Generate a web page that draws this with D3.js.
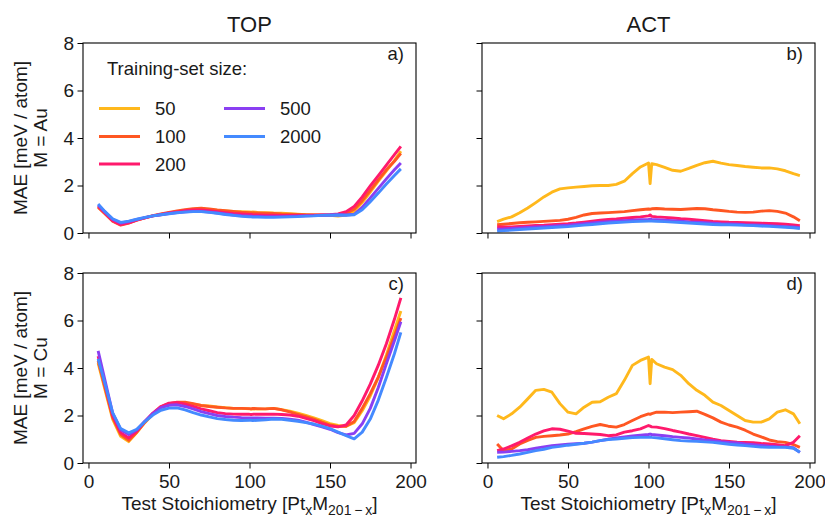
<!DOCTYPE html>
<html>
<head>
<meta charset="utf-8">
<script src="https://cdn.jsdelivr.net/npm/d3@7"></script>
<style>
  body { margin: 0; background: #fff; }
  svg { font-family: "Liberation Sans", Arial, sans-serif; }
</style>
</head>
<body>
<svg id="chart" width="825" height="525"></svg>
<script>
// test stoichiometry (number of Pt atoms)
const stoich = [
  6, 10, 15, 20, 25, 30, 35, 40, 45, 50,
  55, 60, 65, 70, 75, 80, 85, 90, 95, 100,
  101, 102, 105, 110, 115, 120, 125, 130, 135, 140,
  145, 150, 155, 160, 165, 170, 175, 180, 185, 190,
  194];

const sizes = ["50", "100", "200", "500", "2000"];
const colors = ["#FFB81C", "#FF5722", "#FF1A6C", "#8A3FF2", "#448AFF"];

const colTitles = ["TOP", "ACT"];
const rowLabels = ["M = Au", "M = Cu"];
const panelTags = ["a)", "b)", "c)", "d)"];
const xTicks = [0, 50, 100, 150, 200];
const yTicks = [0, 2, 4, 6, 8];

// TOP, M = Au
const topAu50 = [
  1.12, 0.85, 0.52, 0.36, 0.44, 0.55, 0.64, 0.72, 0.78, 0.84,
  0.90, 0.95, 0.99, 1.00, 0.98, 0.95, 0.93, 0.91, 0.90, 0.89,
  0.88, 0.89, 0.87, 0.86, 0.84, 0.83, 0.81, 0.79, 0.77, 0.76,
  0.75, 0.74, 0.71, 0.76, 0.92, 1.28, 1.72, 2.18, 2.62, 3.05,
  3.45];
const topAu100 = [
  1.08, 0.82, 0.50, 0.33, 0.42, 0.54, 0.64, 0.73, 0.80, 0.87,
  0.93, 0.98, 1.02, 1.04, 1.01, 0.97, 0.94, 0.91, 0.88, 0.86,
  0.86, 0.85, 0.84, 0.83, 0.82, 0.80, 0.79, 0.78, 0.77, 0.76,
  0.76, 0.76, 0.77, 0.82, 1.00, 1.36, 1.80, 2.24, 2.66, 3.02,
  3.35];
const topAu200 = [
  1.14, 0.86, 0.52, 0.35, 0.43, 0.54, 0.64, 0.72, 0.78, 0.84,
  0.89, 0.94, 0.97, 0.97, 0.94, 0.90, 0.86, 0.82, 0.80, 0.78,
  0.78, 0.77, 0.76, 0.75, 0.75, 0.74, 0.74, 0.74, 0.74, 0.75,
  0.76, 0.77, 0.80, 0.90, 1.12, 1.52, 1.98, 2.42, 2.86, 3.30,
  3.65];
const topAu500 = [
  1.18, 0.90, 0.58, 0.42, 0.48, 0.57, 0.65, 0.72, 0.77, 0.82,
  0.86, 0.89, 0.91, 0.91, 0.88, 0.84, 0.80, 0.76, 0.73, 0.71,
  0.71, 0.70, 0.70, 0.69, 0.69, 0.69, 0.70, 0.71, 0.72, 0.73,
  0.75, 0.76, 0.77, 0.76, 0.79, 1.08, 1.48, 1.88, 2.28, 2.66,
  2.95];
const topAu2000 = [
  1.22, 0.92, 0.60, 0.45, 0.50, 0.58, 0.66, 0.72, 0.77, 0.81,
  0.85, 0.88, 0.90, 0.90, 0.87, 0.83, 0.78, 0.74, 0.70, 0.68,
  0.68, 0.67, 0.67, 0.66, 0.66, 0.67, 0.68, 0.69, 0.71, 0.72,
  0.74, 0.75, 0.76, 0.75, 0.77, 0.98, 1.32, 1.68, 2.06, 2.42,
  2.70];

// ACT, M = Au
const actAu50 = [
  0.48, 0.58, 0.68, 0.85, 1.05, 1.28, 1.52, 1.72, 1.86, 1.90,
  1.93, 1.96, 1.99, 2.00, 2.00, 2.05, 2.18, 2.50, 2.78, 2.95,
  2.08, 2.92, 2.88, 2.76, 2.64, 2.60, 2.72, 2.85, 2.96, 3.02,
  2.94, 2.88, 2.84, 2.80, 2.77, 2.74, 2.74, 2.70, 2.62, 2.50,
  2.42];
const actAu100 = [
  0.35, 0.37, 0.40, 0.43, 0.45, 0.47, 0.49, 0.51, 0.53, 0.58,
  0.66, 0.76, 0.82, 0.84, 0.86, 0.88, 0.90, 0.94, 0.98, 1.01,
  1.00, 1.02, 1.03, 1.01, 1.00, 0.99, 1.01, 1.03, 1.02, 0.98,
  0.95, 0.91, 0.88, 0.87, 0.88, 0.92, 0.94, 0.91, 0.84, 0.68,
  0.52];
const actAu200 = [
  0.26, 0.25, 0.26, 0.28, 0.30, 0.32, 0.33, 0.35, 0.37, 0.39,
  0.42, 0.46, 0.50, 0.54, 0.57, 0.59, 0.62, 0.65, 0.68, 0.72,
  0.76, 0.70, 0.68, 0.66, 0.63, 0.60, 0.58, 0.55, 0.52, 0.49,
  0.47, 0.45, 0.44, 0.43, 0.42, 0.41, 0.40, 0.39, 0.37, 0.34,
  0.31];
const actAu500 = [
  0.16, 0.17, 0.19, 0.21, 0.23, 0.25, 0.27, 0.29, 0.31, 0.33,
  0.36, 0.39, 0.42, 0.45, 0.48, 0.50, 0.52, 0.54, 0.56, 0.57,
  0.58, 0.57, 0.56, 0.54, 0.52, 0.50, 0.47, 0.45, 0.43, 0.41,
  0.39, 0.38, 0.37, 0.35, 0.34, 0.33, 0.31, 0.29, 0.27, 0.25,
  0.22];
const actAu2000 = [
  0.08, 0.10, 0.12, 0.15, 0.17, 0.19, 0.21, 0.23, 0.25, 0.27,
  0.30, 0.33, 0.36, 0.39, 0.42, 0.44, 0.46, 0.48, 0.49, 0.50,
  0.50, 0.50, 0.49, 0.48, 0.46, 0.44, 0.42, 0.40, 0.38, 0.36,
  0.35, 0.34, 0.33, 0.32, 0.31, 0.29, 0.28, 0.26, 0.24, 0.22,
  0.19];

// TOP, M = Cu
const topCu50 = [
  4.20, 3.15, 1.85, 1.12, 0.90, 1.28, 1.70, 2.05, 2.33, 2.46,
  2.52, 2.52, 2.48, 2.42, 2.40, 2.36, 2.33, 2.30, 2.30, 2.28,
  2.27, 2.28, 2.27, 2.28, 2.30, 2.25, 2.18, 2.10, 2.00, 1.90,
  1.78, 1.66, 1.58, 1.55, 1.70, 2.20, 2.82, 3.60, 4.55, 5.58,
  6.40];
const topCu100 = [
  4.30, 3.25, 1.92, 1.20, 0.95, 1.30, 1.72, 2.08, 2.36, 2.50,
  2.56, 2.56, 2.50, 2.42, 2.38, 2.35, 2.32, 2.30, 2.30, 2.29,
  2.28, 2.30, 2.29, 2.28, 2.30, 2.24, 2.15, 2.05, 1.95, 1.85,
  1.72, 1.60, 1.54, 1.55, 1.75, 2.30, 2.92, 3.62, 4.45, 5.35,
  6.10];
const topCu200 = [
  4.50, 3.35, 2.00, 1.28, 1.05, 1.35, 1.75, 2.10, 2.38, 2.52,
  2.55, 2.48, 2.38, 2.28, 2.20, 2.12, 2.08, 2.06, 2.05, 2.05,
  2.04, 2.05, 2.06, 2.05, 2.06, 2.04, 2.02, 1.97, 1.88, 1.78,
  1.66, 1.56, 1.52, 1.60, 2.00, 2.62, 3.32, 4.12, 5.02, 6.05,
  6.95];
const topCu500 = [
  4.72, 3.55, 2.10, 1.40, 1.20, 1.40, 1.76, 2.08, 2.33, 2.43,
  2.45, 2.38, 2.28, 2.16, 2.08, 2.00, 1.96, 1.93, 1.91, 1.90,
  1.90, 1.90, 1.90, 1.89, 1.89, 1.88, 1.84, 1.80, 1.72, 1.62,
  1.52, 1.42, 1.28, 1.18, 1.25, 1.65, 2.30, 3.18, 4.18, 5.15,
  5.95];
const topCu2000 = [
  4.38, 3.40, 2.12, 1.45, 1.27, 1.42, 1.74, 2.02, 2.22, 2.31,
  2.32, 2.24, 2.12, 2.02, 1.94, 1.87, 1.83, 1.80, 1.79, 1.80,
  1.80, 1.79, 1.80, 1.82, 1.85, 1.84, 1.80, 1.76, 1.70, 1.64,
  1.55, 1.45, 1.30, 1.15, 1.02, 1.30, 1.85, 2.65, 3.60, 4.60,
  5.50];

// ACT, M = Cu
const actCu50 = [
  2.00, 1.86, 2.07, 2.35, 2.70, 3.06, 3.10, 2.98, 2.50, 2.14,
  2.07, 2.35, 2.56, 2.58, 2.77, 2.92, 3.48, 4.11, 4.32, 4.46,
  3.34, 4.36, 4.18, 4.04, 3.93, 3.69, 3.34, 3.06, 2.85, 2.56,
  2.42, 2.21, 2.00, 1.79, 1.72, 1.72, 1.86, 2.14, 2.24, 2.07,
  1.65];
const actCu100 = [
  0.80, 0.52, 0.59, 0.80, 0.95, 1.08, 1.12, 1.15, 1.18, 1.22,
  1.32, 1.44, 1.54, 1.62, 1.55, 1.51, 1.62, 1.79, 1.95, 2.07,
  2.05, 2.08, 2.14, 2.14, 2.12, 2.14, 2.16, 2.18, 2.05, 1.90,
  1.72, 1.60, 1.51, 1.38, 1.22, 1.10, 0.97, 0.90, 0.87, 0.78,
  0.66];
const actCu200 = [
  0.52, 0.59, 0.72, 0.87, 1.05, 1.22, 1.35, 1.44, 1.42, 1.34,
  1.25, 1.24, 1.22, 1.20, 1.15, 1.18, 1.30, 1.36, 1.44, 1.58,
  1.55, 1.52, 1.51, 1.45, 1.37, 1.30, 1.22, 1.15, 1.08, 1.00,
  0.94, 0.91, 0.88, 0.87, 0.85, 0.82, 0.80, 0.77, 0.73, 0.87,
  1.15];
const actCu500 = [
  0.45, 0.46, 0.49, 0.52, 0.56, 0.62, 0.68, 0.73, 0.76, 0.79,
  0.81, 0.83, 0.88, 0.94, 1.00, 1.06, 1.10, 1.14, 1.17, 1.20,
  1.22, 1.20, 1.18, 1.15, 1.11, 1.08, 1.05, 1.01, 0.97, 0.94,
  0.90, 0.87, 0.84, 0.80, 0.77, 0.74, 0.71, 0.69, 0.68, 0.64,
  0.45];
const actCu2000 = [
  0.24, 0.27, 0.32, 0.38, 0.45, 0.52, 0.58, 0.66, 0.70, 0.75,
  0.79, 0.83, 0.88, 0.94, 0.99, 1.01, 1.04, 1.07, 1.08, 1.08,
  1.09, 1.08, 1.06, 1.02, 0.98, 0.94, 0.92, 0.91, 0.89, 0.87,
  0.83, 0.79, 0.76, 0.73, 0.70, 0.67, 0.66, 0.66, 0.66, 0.62,
  0.45];

// panels in reading order: a) b) c) d)
const panelSeries = [
  [topAu50, topAu100, topAu200, topAu500, topAu2000],
  [actAu50, actAu100, actAu200, actAu500, actAu2000],
  [topCu50, topCu100, topCu200, topCu500, topCu2000],
  [actCu50, actCu100, actCu200, actCu500, actCu2000]
];

const colX = [83, 482];
const rowY = [43, 273];
const pw = 333, ph = 190;
const fontSize = 18.5;

const svg = d3.select("#chart");

panelSeries.forEach((series, i) => {
    const row = Math.floor(i / 2), col = i % 2;
    const left = colX[col], top = rowY[row];

    const x = d3.scaleLinear()
        .domain([-3.4, 203.4])
        .range([left, left + pw]);

    const y = d3.scaleLinear()
        .domain([0, 8])
        .range([top + ph, top]);

    const g = svg.append("g");

    g.append("clipPath")
        .attr("id", "clip" + i)
      .append("rect")
        .attr("x", left)
        .attr("y", top)
        .attr("width", pw)
        .attr("height", ph);

    const line = d3.line()
        .x((d, j) => x(stoich[j]))
        .y(d => y(d));

    series.forEach((values, k) => {
        g.append("path")
            .attr("clip-path", `url(#clip${i})`)
            .attr("fill", "none")
            .attr("stroke", colors[k])
            .attr("stroke-width", 2.9)
            .attr("stroke-linejoin", "round")
            .attr("d", line(values));
    });

    // x axis, labels only on the bottom row
    const gx = g.append("g")
        .attr("transform", `translate(0,${top + ph})`)
        .call(d3.axisBottom(x).tickValues(xTicks).tickSize(5.5).tickPadding(6).tickSizeOuter(0));
    gx.select(".domain").remove();
    if (row === 0) gx.selectAll(".tick text").remove();

    // y axis, labels only on the left column
    const gy = g.append("g")
        .attr("transform", `translate(${left},0)`)
        .call(d3.axisLeft(y).tickValues(yTicks).tickSize(5.5).tickPadding(3.5).tickSizeOuter(0));
    gy.select(".domain").remove();
    if (col === 1) gy.selectAll(".tick text").remove();

    g.selectAll(".tick line").attr("stroke", "#000").attr("stroke-width", 1);
    g.selectAll(".tick text")
        .attr("fill", "#1a1a1a")
        .attr("font-size", 19)
        .attr("font-family", "Liberation Sans, Arial, sans-serif");

    // frame
    g.append("rect")
        .attr("x", left)
        .attr("y", top)
        .attr("width", pw)
        .attr("height", ph)
        .attr("fill", "none")
        .attr("stroke", "#000")
        .attr("stroke-width", 1.1);

    // panel tag
    g.append("text")
        .attr("x", left + pw - 12)
        .attr("y", top + 17)
        .attr("text-anchor", "end")
        .attr("font-size", fontSize)
        .attr("fill", "#1a1a1a")
        .text(panelTags[i]);

    if (row === 0) {
        g.append("text")
            .attr("x", left + pw / 2)
            .attr("y", 31.5)
            .attr("text-anchor", "middle")
            .attr("font-size", 22)
            .attr("fill", "#1a1a1a")
            .text(colTitles[col]);
    } else {
        const xl = g.append("text")
            .attr("x", left + pw / 2)
            .attr("y", 510)
            .attr("text-anchor", "middle")
            .attr("font-size", 19)
            .attr("fill", "#1a1a1a");
        xl.append("tspan").text("Test Stoichiometry [Pt");
        xl.append("tspan").attr("dy", 5).attr("font-size", 14).text("x");
        xl.append("tspan").attr("dy", -5).text("M");
        xl.append("tspan").attr("dy", 5).attr("font-size", 14).text("201\u2009\u2212\u2009x");
        xl.append("tspan").attr("dy", -5).text("]");
    }

    if (col === 0) {
        const cy = top + ph / 2;
        g.append("text")
            .attr("transform", `translate(27,${cy}) rotate(-90)`)
            .attr("text-anchor", "middle")
            .attr("font-size", 19)
            .attr("fill", "#1a1a1a")
            .text("MAE [meV / atom]");
        g.append("text")
            .attr("transform", `translate(47,${cy}) rotate(-90)`)
            .attr("text-anchor", "middle")
            .attr("font-size", 19)
            .attr("fill", "#1a1a1a")
            .text(rowLabels[row]);
    }
});

// legend inside panel a)
const legend = svg.append("g")
    .attr("font-size", fontSize)
    .attr("fill", "#1a1a1a");

legend.append("text")
    .attr("x", 107)
    .attr("y", 75)
    .text("Training-set size:");

const legendPos = [[99, 108.5], [99, 136.5], [99, 164], [224, 108.5], [224, 136.5]];
sizes.forEach((s, k) => {
    const [lx, ly] = legendPos[k];
    legend.append("line")
        .attr("x1", lx)
        .attr("x2", lx + 41)
        .attr("y1", ly)
        .attr("y2", ly)
        .attr("stroke", colors[k])
        .attr("stroke-width", 2.9);
    legend.append("text")
        .attr("x", lx + 56)
        .attr("y", ly + 6.5)
        .text(s);
});
</script>
</body>
</html>
